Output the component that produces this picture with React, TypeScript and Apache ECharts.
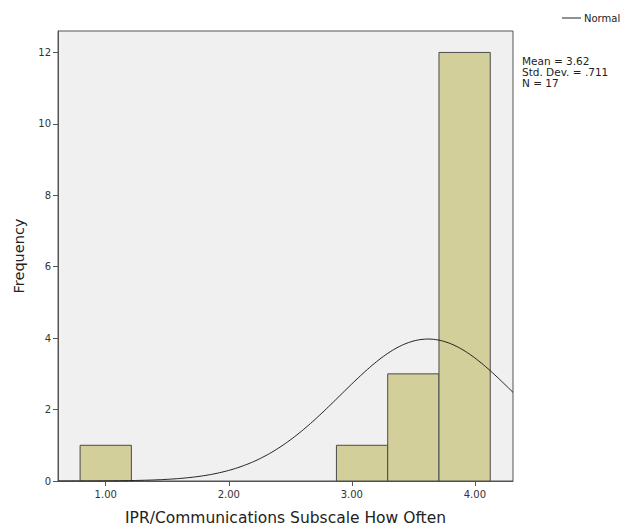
import React, { useEffect, useRef } from "react";
import * as echarts from "echarts";

const binCenters = [1.0, 3.0833, 3.5, 3.9167];
const binCounts = [1, 1, 3, 12];
const binWidth = 5 / 12;
const xTicks = [1, 2, 3, 4];
const xTickLabels = ["1.00", "2.00", "3.00", "4.00"];
const yTicks = [0, 2, 4, 6, 8, 10, 12];
const statMean = 3.62;
const statSd = 0.711;
const statN = 17;
const xMin = 0.612;
const xMax = 4.31;
const yMax = 12.6;

export default function App() {
  const ref = useRef<HTMLDivElement>(null);
  useEffect(() => {
    if (!ref.current) return;
    const chart = echarts.init(ref.current, null, { renderer: "svg" });
    const barData = binCenters.map((c, i) => [c - binWidth / 2, c + binWidth / 2, binCounts[i]]);
    const curve: number[][] = [];
    const steps = 200;
    for (let i = 0; i <= steps; i++) {
      const x = xMin + ((xMax - xMin) * i) / steps;
      const z = (x - statMean) / statSd;
      const y = (statN * binWidth) / (statSd * Math.sqrt(2 * Math.PI)) * Math.exp(-0.5 * z * z);
      curve.push([x, y]);
    }
    const font = "DejaVu Sans";
    chart.setOption({
      animation: false,
      grid: {
        left: 58,
        right: 116,
        top: 31,
        bottom: 49,
        show: true,
        backgroundColor: "#f0f0f0",
        borderColor: "#555",
        borderWidth: 1,
      },
      xAxis: {
        type: "value",
        min: xMin,
        max: xMax,
        name: "IPR/Communications Subscale How Often",
        nameLocation: "middle",
        nameGap: 29,
        nameTextStyle: { fontFamily: font, fontSize: 15.5, color: "#222" },
        axisLine: { show: true, lineStyle: { color: "#555" } },
        axisTick: { show: true, length: 5, lineStyle: { color: "#555" }, customValues: xTicks },
        axisLabel: {
          fontFamily: font,
          fontSize: 10,
          color: "#333",
          margin: 8,
          customValues: xTicks,
          formatter: (v: number) => xTickLabels[xTicks.indexOf(Math.round(v))] ?? "",
        },
        splitLine: { show: false },
      },
      yAxis: {
        type: "value",
        min: 0,
        max: yMax,
        name: "Frequency",
        nameLocation: "middle",
        nameGap: 32,
        nameTextStyle: { fontFamily: font, fontSize: 14.5, color: "#222" },
        axisLine: { show: true, lineStyle: { color: "#555" } },
        axisTick: { show: true, length: 5, lineStyle: { color: "#555" }, customValues: yTicks },
        axisLabel: { fontFamily: font, fontSize: 10, color: "#333", margin: 7, customValues: yTicks },
        splitLine: { show: false },
      },
      series: [
        {
          type: "custom",
          data: barData,
          renderItem: (params: any, api: any) => {
            const p0 = api.coord([api.value(0), api.value(2)]);
            const p1 = api.coord([api.value(1), 0]);
            return {
              type: "rect",
              shape: { x: p0[0], y: p0[1], width: p1[0] - p0[0], height: p1[1] - p0[1] },
              style: { fill: "#d3cf9a", stroke: "#4a4a4a", lineWidth: 1 },
            };
          },
          encode: { x: [0, 1], y: 2 },
          z: 2,
        },
        {
          type: "line",
          data: curve,
          showSymbol: false,
          smooth: false,
          clip: true,
          lineStyle: { color: "#222", width: 1 },
          z: 3,
        },
      ],
      graphic: [
        { type: "line", shape: { x1: 562, y1: 18, x2: 581, y2: 18 }, style: { stroke: "#222", lineWidth: 1 } },
        { type: "text", x: 584, y: 18, style: { text: "Normal", font: `10px '${font}'`, fill: "#222", verticalAlign: "middle" } },
        {
          type: "text",
          x: 522,
          y: 55,
          style: {
            text: `Mean = ${statMean.toFixed(2)}\nStd. Dev. = .711\nN = ${statN}`,
            font: `10.5px '${font}'`,
            lineHeight: 11,
            fill: "#222",
          },
        },
      ],
    });
    return () => chart.dispose();
  }, []);
  return <div ref={ref} style={{ position: "absolute", left: 0, top: 0, width: 629, height: 531 }} />;
}
